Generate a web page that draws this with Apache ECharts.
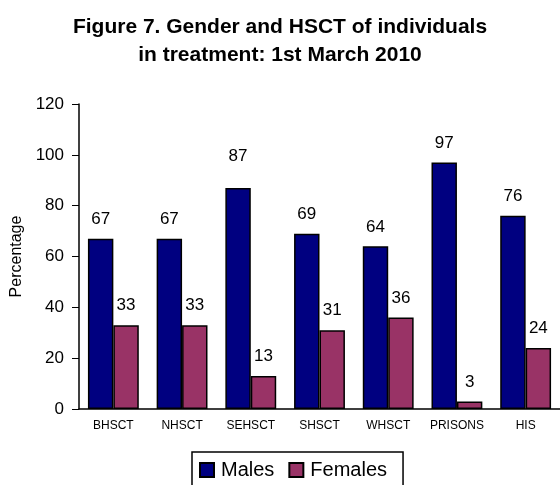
<!DOCTYPE html>
<html lang="en">
<head>
    <meta charset="UTF-8">
    <title>Figure 7</title>
    <style>
        * { margin: 0; padding: 0; }
        #box { width: 560px; height: 485px; }
    </style>
</head>
<body>
    <div id="box"></div>
    <script src="https://cdnjs.cloudflare.com/ajax/libs/echarts/6.0.0/echarts.min.js"></script>
    <script>
        var categories = ['BHSCT', 'NHSCT', 'SEHSCT', 'SHSCT', 'WHSCT', 'PRISONS', 'HIS'];
        var males = [67, 67, 87, 69, 64, 97, 76];
        var females = [33, 33, 13, 31, 36, 3, 24];

        var myChart = echarts.init(document.getElementById('box'));
        var font = 'Arial, "Liberation Sans", sans-serif';

        // the SEHSCT male label sits higher in the original
        var maleData = males.map(function (v, i) {
            return i === 2 ? { value: v, label: { distance: 23 } } : v;
        });

        var labelStyle = {
            show: true,
            position: 'top',
            distance: 11,
            fontFamily: font,
            fontSize: 17,
            color: '#000'
        };

        var option = {
            animation: false,
            title: {
                text: 'Figure 7. Gender and HSCT of individuals\nin treatment: 1st March 2010',
                left: 'center',
                top: 8,
                textStyle: {
                    fontFamily: font,
                    fontSize: 21,
                    fontWeight: 'bold',
                    color: '#000',
                    lineHeight: 28
                }
            },
            legend: {
                data: ['Males', 'Females'],
                left: 192,
                top: 452,
                itemWidth: 14,
                itemHeight: 14,
                itemGap: 14,
                padding: [8, 16, 8, 7],
                borderColor: '#000',
                borderWidth: 1.5,
                icon: 'rect',
                textStyle: {
                    fontFamily: font,
                    fontSize: 20,
                    color: '#000',
                    padding: [0, 0, 0, 2]
                }
            },
            grid: {
                left: 79,
                top: 104,
                width: 483,
                height: 305
            },
            xAxis: {
                type: 'category',
                data: categories,
                axisLine: { lineStyle: { color: '#000', width: 1.5 } },
                axisTick: { length: 5, lineStyle: { color: '#000' } },
                axisLabel: {
                    interval: 0,
                    fontFamily: font,
                    fontSize: 12,
                    color: '#000',
                    margin: 11
                }
            },
            yAxis: {
                type: 'value',
                min: 0,
                max: 120,
                interval: 20,
                name: 'Percentage',
                nameLocation: 'middle',
                nameGap: 53,
                nameTextStyle: { fontFamily: font, fontSize: 16, color: '#000' },
                axisLine: { show: true, lineStyle: { color: '#000', width: 1.5 } },
                axisTick: { show: true, inside: false, length: 7, lineStyle: { color: '#000' } },
                splitLine: { show: false },
                axisLabel: {
                    fontFamily: font,
                    fontSize: 17,
                    color: '#000',
                    margin: 15
                }
            },
            series: [{
                name: 'Males',
                type: 'bar',
                data: maleData,
                barGap: '0%',
                barCategoryGap: '26%',
                itemStyle: { color: '#000080', borderColor: '#000', borderWidth: 1.5 },
                label: labelStyle
            }, {
                name: 'Females',
                type: 'bar',
                data: females,
                itemStyle: { color: '#993366', borderColor: '#000', borderWidth: 1.5 },
                label: labelStyle
            }]
        };
        myChart.setOption(option);
    </script>
</body>
</html>
